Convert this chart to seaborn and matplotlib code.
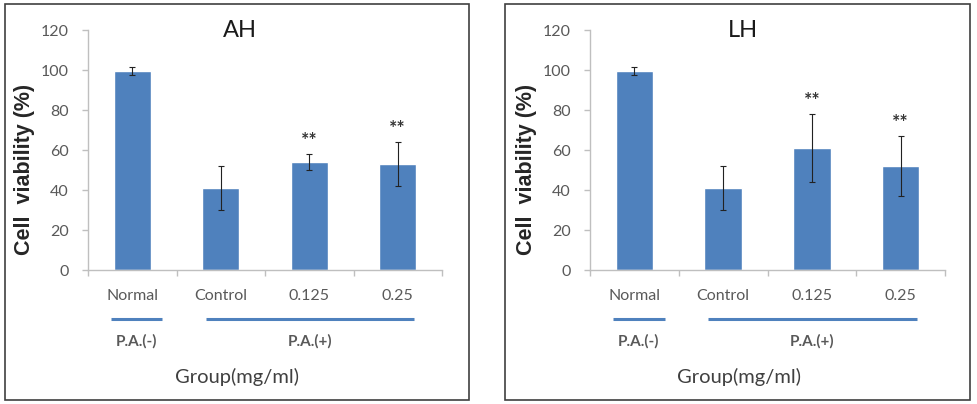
import pandas as pd
import seaborn as sns
import matplotlib.pyplot as plt
import matplotlib.transforms as mtransforms
from matplotlib.patches import Rectangle

# data
groups = ["Normal", "Control", "0.125", "0.25"]
ah_mean = [99.5, 41, 54, 53]
ah_err = [2, 11, 4, 11]
lh_mean = [99.5, 41, 61, 52]
lh_err = [2, 11, 17, 15]
ah_sig = ["", "", "**", "**"]
lh_sig = ["", "", "**", "**"]
pa_groups = [("P.A.(-)", -0.24, 0.34), ("P.A.(+)", 0.83, 3.18)]

BAR = "#4F81BD"
GREY = "#595959"

sns.set_style("white")
plt.rcParams["font.family"] = ["Lato", "DejaVu Sans"]

fig = plt.figure(figsize=(9.78, 4.04), dpi=100)

# panel frames
for x0, w in [(5 / 978, 464 / 978), (505 / 978, 465 / 978)]:
    fig.patches.append(Rectangle((x0, 4 / 404), w, 396 / 404, transform=fig.transFigure,
                                 fill=False, edgecolor="#404040", linewidth=1.2))


def draw_panel(ax, title, mean, err, sig):
    df = pd.DataFrame({"group": groups, "value": mean})
    sns.barplot(data=df, x="group", y="value", color=BAR, saturation=1, width=0.42,
                errorbar=None, ax=ax)
    ax.errorbar(range(len(groups)), mean, yerr=err, fmt="none", ecolor="#222222",
                elinewidth=0.8, capsize=2.5, capthick=0.8)
    for i, s in enumerate(sig):
        if s:
            ax.text(i, mean[i] + err[i] + 2.5, s, ha="center", va="bottom",
                    fontsize=14, color="#333333", fontweight="bold")
    ax.set_ylim(0, 120)
    ax.set_xlim(-0.5, 3.5)
    ax.set_yticks(range(0, 121, 20))
    ax.set_xticks([-0.5, 0.5, 1.5, 2.5, 3.5], minor=True)
    ax.tick_params(axis="x", which="major", length=0, pad=14, labelsize=11.5, labelcolor=GREY)
    ax.tick_params(axis="x", which="minor", length=4, color="#BFBFBF", width=1, direction="out")
    ax.tick_params(axis="y", length=4, color="#BFBFBF", width=1, direction="out",
                   labelsize=11.5, labelcolor=GREY, pad=10)
    ax.xaxis.set_ticks_position("bottom")
    ax.yaxis.set_ticks_position("left")
    sns.despine(ax=ax)
    for sp in ("left", "bottom"):
        ax.spines[sp].set_color("#BFBFBF")
        ax.spines[sp].set_linewidth(1)
    ax.set_xlabel("")
    ax.set_ylabel("Cell  viability (%)", family="Liberation Sans", fontweight="bold",
                  fontsize=15.5, color="#262626")
    ax.yaxis.set_label_coords(-0.15, 0.42)
    ax.set_title(title, fontsize=17, color="#1a1a1a", pad=0, x=0.43, y=0.97)

    trans = mtransforms.blended_transform_factory(ax.transData, ax.transAxes)
    for label, a, b in pa_groups:
        ax.plot([a, b], [-0.205, -0.205], transform=trans, color=BAR, linewidth=2.2,
                clip_on=False, solid_capstyle="butt")
        ax.text((a + b) / 2, -0.265, label, transform=trans, ha="center", va="top",
                fontsize=11, color=GREY, fontweight="bold")
    ax.text(0.42, -0.41, "Group(mg/ml)", transform=ax.transAxes, ha="center", va="top",
            fontsize=14.5, color="#404040")


ax1 = fig.add_axes([88 / 978, 1 - 270 / 404, 354 / 978, 240 / 404])
ax2 = fig.add_axes([590 / 978, 1 - 270 / 404, 355 / 978, 240 / 404])
draw_panel(ax1, "AH", ah_mean, ah_err, ah_sig)
draw_panel(ax2, "LH", lh_mean, lh_err, lh_sig)

fig.savefig("out.png", dpi=100)
